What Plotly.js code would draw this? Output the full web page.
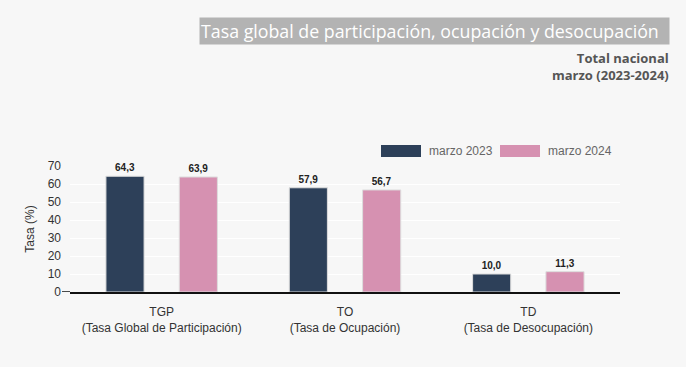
<!DOCTYPE html>
<html>
<head>
<meta charset="utf-8">
<script src="https://cdn.plot.ly/plotly-3.0.1.min.js"></script>
<style>html,body{margin:0;padding:0;background:#f7f7f7;}#chart{width:686px;height:367px;}</style>
</head>
<body>
<div id="chart"></div>
<script>
const categories = ["TGP<br>(Tasa Global de Participación)", "TO<br>(Tasa de Ocupación)", "TD<br>(Tasa de Desocupación)"];
const seriesNames = ["marzo 2023", "marzo 2024"];
const values2023 = [64.3, 57.9, 10.0];
const values2024 = [63.9, 56.7, 11.3];
const yTicks = [0, 10, 20, 30, 40, 50, 60, 70];
const colors = ["#2d4059", "#d691b1"];

const L = 70, R = 620, T = 166, B = 292, W = 686, H = 367;
const px = x => (x - L) / (R - L);
const py = y => (B - y) / (B - T);

function barTrace(name, vals, color) {
  return {
    type: "bar", name: name, x: categories, y: vals,
    marker: {color: color, line: {color: "#dddddd", width: 1}},
    text: vals, texttemplate: "%{y:.1f}", textposition: "outside", cliponaxis: false,
    textfont: {family: "Liberation Sans, Arial", size: 10, color: "#222", weight: "bold"},
    hoverinfo: "none", showlegend: false
  };
}

const data = [
  barTrace(seriesNames[0], values2023, colors[0]),
  barTrace(seriesNames[1], values2024, colors[1])
];

const layout = {
  width: W, height: H,
  margin: {l: L, r: W - R, t: T, b: H - B, pad: 0},
  paper_bgcolor: "#f7f7f7", plot_bgcolor: "#f7f7f7",
  separators: ",.",
  font: {family: "Liberation Sans, Arial", size: 12, color: "#333"},
  barmode: "group", bargap: 0.2, bargroupgap: 0.48,
  xaxis: {
    showgrid: false, showline: true, linecolor: "#111", linewidth: 1.5,
    ticks: "", ticklabelstandoff: 8, tickfont: {size: 12, color: "#333"}, fixedrange: true
  },
  yaxis: {
    range: [0, 70], tickvals: yTicks, ticktext: yTicks.map(String),
    showgrid: true, gridcolor: "#ffffff", gridwidth: 1, zeroline: false,
    ticks: "", ticklabelstandoff: 8,
    tickfont: {size: 12, color: "#333"},
    title: {text: "Tasa (%)", font: {size: 12, color: "#333"}, standoff: 10}
  },
  shapes: [
    {type: "line", xref: "paper", yref: "y", x0: px(62), x1: 0, y0: 0, y1: 0, line: {color: "#111", width: 1.5}},
    {type: "rect", xref: "paper", yref: "paper", x0: px(381), x1: px(421), y0: py(157), y1: py(145), fillcolor: colors[0], line: {width: 0}},
    {type: "rect", xref: "paper", yref: "paper", x0: px(500), x1: px(540), y0: py(157), y1: py(145), fillcolor: colors[1], line: {width: 0}}
  ],
  annotations: [
    {xref: "paper", yref: "paper", x: px(670), y: py(31), xanchor: "right", yanchor: "middle",
     text: "Tasa global de participación, ocupación y desocupación  ", showarrow: false,
     bgcolor: "#b3b3b3", borderpad: 1,
     font: {family: "Open Sans", size: 17.8, color: "#ffffff"}},
    {xref: "paper", yref: "paper", x: px(671), y: py(67), xanchor: "right", yanchor: "middle", align: "right",
     text: "<b>Total nacional</b><br><b>marzo (2023-2024)</b>", showarrow: false,
     font: {family: "Open Sans", size: 13, color: "#555"}},
    {xref: "paper", yref: "paper", x: px(427), y: py(151), xanchor: "left", yanchor: "middle",
     text: seriesNames[0], showarrow: false, font: {size: 12, color: "#666"}},
    {xref: "paper", yref: "paper", x: px(546), y: py(151), xanchor: "left", yanchor: "middle",
     text: seriesNames[1], showarrow: false, font: {size: 12, color: "#666"}}
  ]
};

Plotly.newPlot("chart", data, layout, {displayModeBar: false, staticPlot: true});
</script>
</body>
</html>
